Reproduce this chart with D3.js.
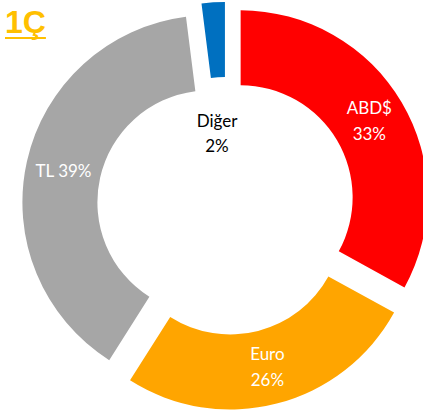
<!DOCTYPE html>
<html>
<head>
<meta charset="utf-8">
<script src="https://cdn.jsdelivr.net/npm/d3@7"></script>
<style>
  body { margin: 0; background: #fff; }
  svg { display: block; font-family: Lato, "Open Sans", sans-serif; }
  .title { font-family: "Liberation Sans", Arial, sans-serif; font-size: 32px; font-weight: 700; fill: #ffc000; }
</style>
</head>
<body>
<svg id="chart" width="423" height="414"></svg>
<script>
var categories = ["ABD$", "Euro", "TL", "Diğer"];
var shares = [33, 26, 39, 2];
var colors = ["#ff0000", "#ffa500", "#a6a6a6", "#0070c0"];
var title = "1Ç";

var cx = 226, cy = 206;
var outerR = 187, innerR = 112;
var explode = 17;

var svg = d3.select("#chart");

var pie = d3.pie().sort(null).value(function(d) { return d; });
var arc = d3.arc().innerRadius(innerR).outerRadius(outerR);

var slices = pie(shares);

var g = svg.append("g").attr("transform", "translate(" + cx + "," + cy + ")");

var node = g.selectAll("g.slice")
  .data(slices)
  .enter()
  .append("g")
  .attr("class", "slice")
  .attr("transform", function(d) {
    var a = (d.startAngle + d.endAngle) / 2;
    return "translate(" + (Math.sin(a) * explode) + "," + (-Math.cos(a) * explode) + ")";
  });

node.append("path")
  .attr("d", arc)
  .attr("fill", function(d, i) { return colors[i]; });

// labels
node.each(function(d, i) {
  var el = d3.select(this);
  var c = arc.centroid(d);
  if (i === 3) {
    // Diğer label sits in the hole
    var t = g.append("text").attr("text-anchor", "middle").attr("font-size", 17).attr("fill", "#000");
    t.append("tspan").attr("x", -9).attr("y", -79).text(categories[i]);
    t.append("tspan").attr("x", -9).attr("y", -54).text(shares[i] + "%");
  } else if (i === 2) {
    el.append("text")
      .attr("x", c[0]).attr("y", c[1] + 7)
      .attr("text-anchor", "middle").attr("font-size", 17).attr("fill", "#fff")
      .text(categories[i] + " " + shares[i] + "%");
  } else {
    var t2 = el.append("text").attr("text-anchor", "middle").attr("font-size", 17).attr("fill", "#fff");
    t2.append("tspan").attr("x", c[0]).attr("y", c[1] - 7).text(categories[i]);
    t2.append("tspan").attr("x", c[0]).attr("y", c[1] + 19).text(shares[i] + "%");
  }
});

var tt = svg.append("text")
  .attr("class", "title")
  .attr("x", 5).attr("y", 33)
  .text(title);

// underline drawn as a line under the title text
var bb = tt.node().getBBox();
svg.append("line")
  .attr("x1", bb.x).attr("x2", bb.x + bb.width)
  .attr("y1", 38).attr("y2", 38)
  .attr("stroke", "#ffc000").attr("stroke-width", 2);
</script>
</body>
</html>
